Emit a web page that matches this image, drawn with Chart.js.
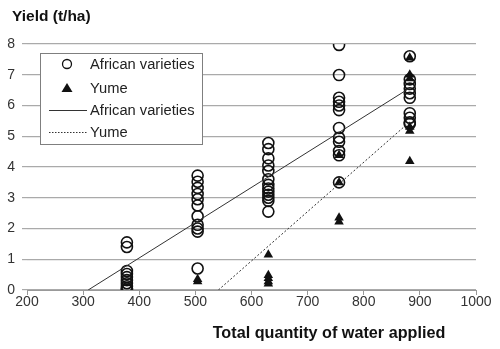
<!DOCTYPE html>
<html>
<head>
<meta charset="utf-8">
<script src="https://cdn.jsdelivr.net/npm/chart.js@4"></script>
<style>
  html, body { margin: 0; padding: 0; background: #fff; }
  #wrap { width: 500px; height: 349px; }
</style>
</head>
<body>
<div id="wrap"><canvas id="yieldChart"></canvas></div>
<script>
const africanX = [378, 378, 378, 378, 378, 378, 378, 378, 378, 378,
  504, 504, 504, 504, 504, 504, 504, 504, 504, 504, 504,
  630, 630, 630, 630, 630, 630, 630, 630, 630, 630, 630, 630, 630,
  756, 756, 756, 756, 756, 756, 756, 756, 756, 756, 756, 756,
  882, 882, 882, 882, 882, 882, 882, 882, 882, 882];
const africanY = [1.55, 1.4, 0.62, 0.52, 0.42, 0.32, 0.22, 0.12, 0.05, 0.0,
  3.72, 3.52, 3.32, 3.12, 2.95, 2.75, 2.4, 2.12, 2.0, 1.9, 0.7,
  4.78, 4.58, 4.28, 4.05, 3.87, 3.6, 3.42, 3.3, 3.2, 3.1, 3.0, 2.9, 2.55,
  7.97, 6.99, 6.25, 6.12, 6.0, 5.85, 5.27, 4.95, 4.82, 4.52, 4.38, 3.5,
  7.6, 6.85, 6.7, 6.55, 6.4, 6.25, 5.75, 5.6, 5.45, 5.4];

const yumeX = [504, 504, 630, 630, 630, 630, 630, 756, 756, 756, 756, 882, 882, 882, 882, 882, 882];
const yumeY = [0.35, 0.28, 1.15, 0.48, 0.38, 0.28, 0.2, 4.38, 3.5, 2.35, 2.22, 7.55, 7.0, 6.88, 5.3, 5.17, 4.19];

// fitted lines (end points)
const trendAfricanX = [309, 882];
const trendAfricanY = [0, 6.57];
const trendYumeX = [541, 882];
const trendYumeY = [0, 5.47];

const xTicks = [200, 300, 400, 500, 600, 700, 800, 900, 1000];
const yTicks = [0, 1, 2, 3, 4, 5, 6, 7, 8];

const legendLabels = ['African varieties', 'Yume', 'African varieties', 'Yume'];

const toPoints = (xs, ys) => xs.map((x, i) => ({ x: x, y: ys[i] }));

const textPlugin = {
  id: 'texts',
  afterDraw(chart) {
    const ctx = chart.ctx;
    ctx.save();
    ctx.fillStyle = '#111';
    ctx.textBaseline = 'middle';
    ctx.textAlign = 'left';
    ctx.font = 'bold 15.5px "Liberation Sans", Arial, sans-serif';
    ctx.fillText('Yield (t/ha)', 12, 17);
    ctx.textAlign = 'center';
    ctx.font = 'bold 16.2px "Liberation Sans", Arial, sans-serif';
    ctx.fillText('Total quantity of water applied', 329, 334);

    // legend box
    const bx = 40.5, by = 53.5, bw = 162, bh = 91;
    ctx.fillStyle = '#fff';
    ctx.fillRect(bx, by, bw, bh);
    ctx.strokeStyle = '#7f7f7f';
    ctx.lineWidth = 1;
    ctx.strokeRect(bx, by, bw, bh);

    const rows = [64, 88, 110, 132];
    ctx.strokeStyle = '#111';
    ctx.fillStyle = '#111';
    // circle
    ctx.lineWidth = 1.3;
    ctx.beginPath();
    ctx.arc(67, rows[0], 4.5, 0, Math.PI * 2);
    ctx.stroke();
    // triangle
    ctx.beginPath();
    ctx.moveTo(67, rows[1] - 5);
    ctx.lineTo(72.5, rows[1] + 4);
    ctx.lineTo(61.5, rows[1] + 4);
    ctx.closePath();
    ctx.fill();
    // solid line
    ctx.lineWidth = 1;
    ctx.strokeStyle = '#333';
    ctx.beginPath();
    ctx.moveTo(49, rows[2] + 0.5);
    ctx.lineTo(87, rows[2] + 0.5);
    ctx.stroke();
    // dotted line
    ctx.setLineDash([1.5, 1.5]);
    ctx.beginPath();
    ctx.moveTo(49, rows[3] + 0.5);
    ctx.lineTo(87, rows[3] + 0.5);
    ctx.stroke();
    ctx.setLineDash([]);

    ctx.fillStyle = '#222';
    ctx.font = '14.7px "Liberation Sans", Arial, sans-serif';
    ctx.textAlign = 'left';
    legendLabels.forEach((t, i) => ctx.fillText(t, 90, rows[i] + 1));
    ctx.restore();
  }
};

new Chart(document.getElementById('yieldChart'), {
  type: 'scatter',
  data: {
    datasets: [
      {
        label: 'African varieties',
        data: toPoints(africanX, africanY),
        pointStyle: 'circle',
        pointRadius: 5.5,
        pointBorderWidth: 1.6,
        borderColor: '#111',
        backgroundColor: 'rgba(0,0,0,0)',
        order: 2
      },
      {
        label: 'Yume',
        data: toPoints(yumeX, yumeY),
        pointStyle: 'triangle',
        pointRadius: 5.5,
        pointBorderWidth: 0,
        borderColor: '#111',
        backgroundColor: '#111',
        order: 3
      },
      {
        label: 'African varieties fit',
        data: toPoints(trendAfricanX, trendAfricanY),
        showLine: true,
        pointRadius: 0,
        borderColor: '#333',
        borderWidth: 1,
        order: 1
      },
      {
        label: 'Yume fit',
        data: toPoints(trendYumeX, trendYumeY),
        showLine: true,
        pointRadius: 0,
        borderColor: '#333',
        borderWidth: 1,
        borderDash: [2, 2],
        order: 1
      }
    ]
  },
  options: {
    responsive: true,
    maintainAspectRatio: false,
    animation: false,
    layout: { padding: { left: 0, top: 44, right: 24, bottom: 0 } },
    plugins: { legend: { display: false }, tooltip: { enabled: false } },
    scales: {
      x: {
        type: 'linear',
        min: 200,
        max: 1000,
        afterBuildTicks: (s) => { s.ticks = xTicks.map(v => ({ value: v })); },
        afterFit: (s) => { s.height = 59; },
        border: { display: true, color: '#999', width: 1 },
        grid: { drawOnChartArea: false, drawTicks: true, tickLength: 5, color: '#999' },
        ticks: {
          color: '#333',
          padding: -1,
          maxRotation: 0,
          callback: (v) => String(v),
          font: { family: '"Liberation Sans", Arial, sans-serif', size: 14 }
        }
      },
      y: {
        type: 'linear',
        min: 0,
        max: 8,
        afterBuildTicks: (s) => { s.ticks = yTicks.map(v => ({ value: v })); },
        afterFit: (s) => { s.width = 27; },
        border: { display: false },
        grid: { color: '#aaa', lineWidth: 1.2, drawTicks: true, tickLength: 5 },
        ticks: {
          color: '#333',
          padding: 7,
          font: { family: '"Liberation Sans", Arial, sans-serif', size: 14 }
        }
      }
    }
  },
  plugins: [textPlugin]
});
</script>
</body>
</html>
